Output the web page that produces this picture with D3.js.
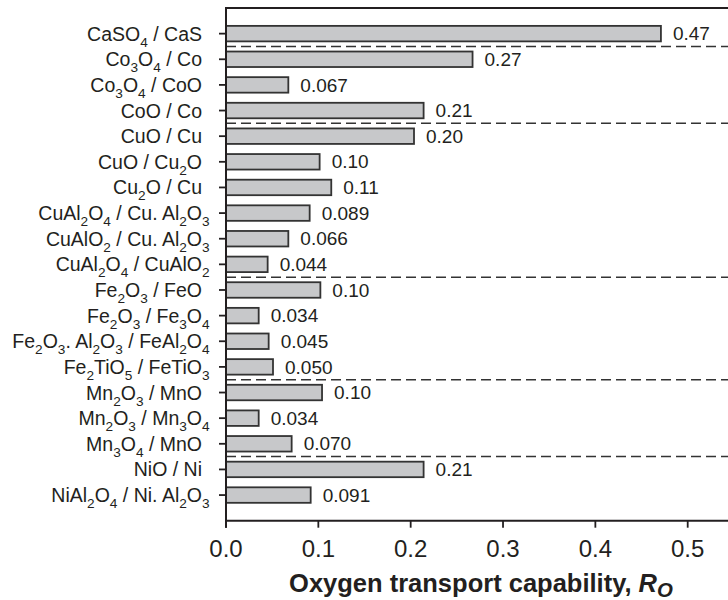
<!DOCTYPE html>
<html><head><meta charset="utf-8">
<script src="https://cdn.jsdelivr.net/npm/d3@7"></script>
<style>body{margin:0;background:#fff}svg{display:block}</style>
</head><body>
<svg id="c" width="728" height="600"></svg>
<script>
const categories = ["CaSO4 / CaS", "Co3O4 / Co", "Co3O4 / CoO", "CoO / Co", "CuO / Cu", "CuO / Cu2O", "Cu2O / Cu", "CuAl2O4 / Cu. Al2O3", "CuAlO2 / Cu. Al2O3", "CuAl2O4 / CuAlO2", "Fe2O3 / FeO", "Fe2O3 / Fe3O4", "Fe2O3. Al2O3 / FeAl2O4", "Fe2TiO5 / FeTiO3", "Mn2O3 / MnO", "Mn2O3 / Mn3O4", "Mn3O4 / MnO", "NiO / Ni", "NiAl2O4 / Ni. Al2O3"];
const values = [0.471, 0.267, 0.0675, 0.214, 0.2036, 0.1014, 0.114, 0.0906, 0.0675, 0.0451, 0.1022, 0.0354, 0.0462, 0.0509, 0.104, 0.0354, 0.0711, 0.214, 0.0917];
const valueLabels = ["0.47", "0.27", "0.067", "0.21", "0.20", "0.10", "0.11", "0.089", "0.066", "0.044", "0.10", "0.034", "0.045", "0.050", "0.10", "0.034", "0.070", "0.21", "0.091"];
const groupEnds = ["CaSO4 / CaS", "CoO / Co", "CuAl2O4 / CuAlO2", "Fe2TiO5 / FeTiO3", "Mn3O4 / MnO"];
const xTicks = [0, 0.1, 0.2, 0.3, 0.4, 0.5];
const xTickLabels = ["0.0", "0.1", "0.2", "0.3", "0.4", "0.5"];
const xTitle = "Oxygen transport capability, ";

const svg = d3.select("#c");
const L = 226, T = 8, B = 520.7;
const x = d3.scaleLinear().domain([0, 0.55]).range([L, L + 0.55 * 923.4]);
const y = d3.scalePoint().domain(categories).range([T, B]).padding(1);
const barH = 15.5;
const ink = "#231f20";
const font = "Liberation Sans, Arial, Helvetica, sans-serif";

// dashed separators
const step = y.step();
svg.append("g").selectAll("line").data(groupEnds).join("line")
  .attr("x1", L).attr("x2", 740)
  .attr("y1", d => y(d) + step / 2).attr("y2", d => y(d) + step / 2)
  .attr("stroke", "#333").attr("stroke-width", 1.5).attr("stroke-dasharray", "10,5");

// bars
svg.append("g").selectAll("rect").data(categories).join("rect")
  .attr("x", x(0)).attr("y", d => y(d) - barH / 2)
  .attr("width", (d, i) => x(values[i]) - x(0)).attr("height", barH)
  .attr("fill", "#c7c8ca").attr("stroke", "#333").attr("stroke-width", 1.8);

// value labels
svg.append("g").selectAll("text").data(categories).join("text")
  .attr("x", (d, i) => x(values[i]) + 12).attr("y", d => y(d)).attr("dy", "0.35em")
  .attr("font-family", font).attr("font-size", 19).attr("fill", ink)
  .text((d, i) => valueLabels[i]);

// frame
svg.append("line").attr("x1", L).attr("x2", 740).attr("y1", T).attr("y2", T).attr("stroke", ink).attr("stroke-width", 2);
svg.append("line").attr("x1", L).attr("x2", L).attr("y1", T - 1).attr("y2", B + 7).attr("stroke", ink).attr("stroke-width", 2);
svg.append("line").attr("x1", L - 1).attr("x2", 740).attr("y1", B).attr("y2", B).attr("stroke", ink).attr("stroke-width", 2);

// y ticks
svg.append("g").selectAll("line").data(categories).join("line")
  .attr("x1", L - 7).attr("x2", L).attr("y1", d => y(d)).attr("y2", d => y(d))
  .attr("stroke", ink).attr("stroke-width", 1.8);

// x ticks
svg.append("g").selectAll("line").data(xTicks).join("line")
  .attr("x1", d => x(d)).attr("x2", d => x(d)).attr("y1", B).attr("y2", B + 7)
  .attr("stroke", ink).attr("stroke-width", 1.8);
svg.append("g").selectAll("text").data(xTicks).join("text")
  .attr("x", d => x(d)).attr("y", 557).attr("text-anchor", "middle")
  .attr("font-family", font).attr("font-size", 24).attr("fill", ink)
  .text((d, i) => xTickLabels[i]);

// category labels with subscripts
const lab = svg.append("g").selectAll("text").data(categories).join("text")
  .attr("x", 202).attr("y", d => y(d)).attr("dy", "0.36em").attr("text-anchor", "end")
  .attr("font-family", font).attr("font-size", 19.5).attr("fill", ink);
lab.each(function(d) {
  const t = d3.select(this);
  const runs = d.match(/\d+|\D+/g);
  let sub = false;
  runs.forEach(r => {
    const isSub = /^\d+$/.test(r);
    const ts = t.append("tspan").text(r);
    if (isSub) { ts.attr("font-size", "0.7em").attr("dy", 6); }
    else if (sub) { ts.attr("dy", -6); }
    sub = isSub;
  });
  if (sub) {
    const last = t.selectAll("tspan").nodes().pop();
    t.attr("x", 202 + last.getComputedTextLength());
  }
});

// x title
const tt = svg.append("text").attr("x", 481).attr("y", 592).attr("text-anchor", "middle")
  .attr("font-family", font).attr("font-size", 25.5).attr("font-weight", "bold").attr("fill", ink);
tt.append("tspan").text(xTitle);
tt.append("tspan").attr("font-style", "italic").text("R");
tt.append("tspan").attr("font-style", "italic").attr("font-size", "0.8em").attr("dy", 4.5).text("O");
</script>
</body></html>
